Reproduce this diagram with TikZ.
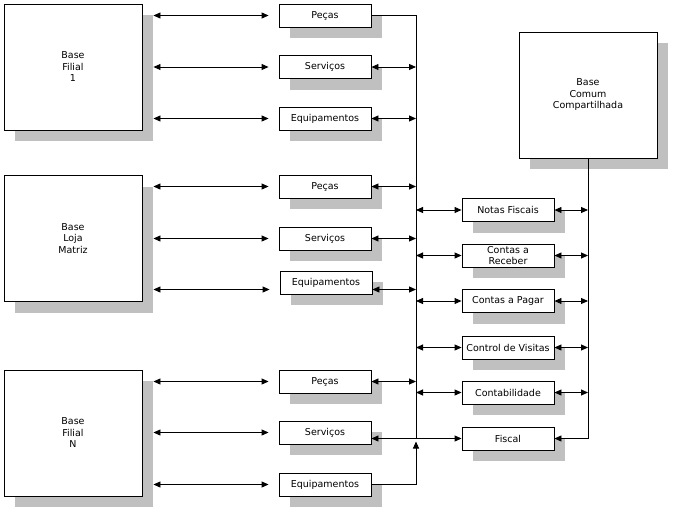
\documentclass[tikz,border=0pt]{standalone}
\usepackage{fontspec}
\setmainfont{DejaVu Sans}
\usetikzlibrary{arrows.meta, shadows}
\definecolor{shadowgray}{RGB}{192, 192, 192}

\begin{document}
\begin{tikzpicture}[
  x=1pt, y=-1pt,
  font=\fontsize{9.5}{11.5}\selectfont,
  basebox/.style={rectangle, draw, fill=white, line width=0.9pt, inner sep=0pt,
              minimum width=138pt, minimum height=126pt, align=center,
              drop shadow={shadow xshift=11pt, shadow yshift=-11pt,
                           fill=shadowgray, opacity=1}},
  tablebox/.style={basebox, minimum width=92pt, minimum height=23pt},
  dbl/.style={{Triangle[length=7pt, width=6pt]}-{Triangle[length=7pt, width=6pt]}, line width=0.9pt},
  wire/.style={line width=0.9pt},
  tip/.style={-{Triangle[length=7pt, width=6pt]}, line width=0.9pt}
]
\path[use as bounding box, fill=white] (0,0) rectangle (676,511);

\node[basebox] (filA)   at (73,67)    {Base\\Filial\\1};
\node[basebox] (matriz) at (73,238.5) {Base\\Loja\\Matriz};
\node[basebox] (filN)   at (73,433)   {Base\\Filial\\N};
\node[basebox] (comum)  at (588,95)   {Base\\Comum\\Compartilhada};

\node[tablebox] (pecasA) at (325,15.5)  {Peças};
\node[tablebox] (servA)  at (325,67)    {Serviços};
\node[tablebox] (equipA) at (325,118.5) {Equipamentos};
\node[tablebox] (pecasB) at (325,186.5) {Peças};
\node[tablebox] (servB)  at (325,238.5) {Serviços};
\node[tablebox] (equipB) at (326,282.5) {Equipamentos};
\node[tablebox] (pecasC) at (325,381.5) {Peças};
\node[tablebox] (servC)  at (325,432.5) {Serviços};
\node[tablebox] (equipC) at (325,484.5) {Equipamentos};

\node[tablebox] (notas)   at (508,210)   {Notas Fiscais};
\node[tablebox] (receber) at (508,255.5) {Contas a\\Receber};
\node[tablebox] (pagar)   at (508,301)   {Contas a Pagar};
\node[tablebox] (visitas) at (508,347.5) {Control de Visitas};
\node[tablebox] (contab)  at (508,392.5) {Contabilidade};
\node[tablebox] (fiscal)  at (508,438.5) {Fiscal};

\coordinate (busL) at (416,0);
\coordinate (eqBl) at ([yshift=-7pt]equipB.west);
\coordinate (eqBr) at ([yshift=-7pt]equipB.east);

\draw[dbl, shorten <=11pt, shorten >=10pt] (filA.east |- pecasA) -- (pecasA.west);
\draw[dbl, shorten <=11pt, shorten >=10pt] (filA.east |- servA)  -- (servA.west);
\draw[dbl, shorten <=11pt, shorten >=10pt] (filA.east |- equipA) -- (equipA.west);
\draw[dbl, shorten <=11pt, shorten >=10pt] (matriz.east |- pecasB) -- (pecasB.west);
\draw[dbl, shorten <=11pt, shorten >=10pt] (matriz.east |- servB)  -- (servB.west);
\draw[dbl, shorten <=11pt, shorten >=10pt] (matriz.east |- eqBl)   -- (eqBl);
\draw[dbl, shorten <=11pt, shorten >=10pt] (filN.east |- pecasC) -- (pecasC.west);
\draw[dbl, shorten <=11pt, shorten >=10pt] (filN.east |- servC)  -- (servC.west);
\draw[dbl, shorten <=11pt, shorten >=10pt] (filN.east |- equipC) -- (equipC.west);

\draw[wire] (pecasA.east) -- (pecasA.east -| busL) -- (fiscal.west -| busL);
\draw[tip, shorten >=3pt] (equipC.east) -- (equipC.east -| busL) -- (fiscal.west -| busL);
\draw[dbl] (servA.east)  -- (servA.east -| busL);
\draw[dbl] (equipA.east) -- (equipA.east -| busL);
\draw[dbl] (pecasB.east) -- (pecasB.east -| busL);
\draw[dbl] (servB.east)  -- (servB.east -| busL);
\draw[dbl] (eqBr)        -- (eqBr -| busL);
\draw[dbl] (pecasC.east) -- (pecasC.east -| busL);
\draw[dbl] (fiscal.west -| servC.east) -- (fiscal.west);

\draw[dbl] (notas.west -| busL)   -- (notas.west);
\draw[dbl] (receber.west -| busL) -- (receber.west);
\draw[dbl] (pagar.west -| busL)   -- (pagar.west);
\draw[dbl] (visitas.west -| busL) -- (visitas.west);
\draw[dbl] (contab.west -| busL)  -- (contab.west);

\draw[dbl] (notas.east)   -- (notas.east -| comum.south);
\draw[dbl] (receber.east) -- (receber.east -| comum.south);
\draw[dbl] (pagar.east)   -- (pagar.east -| comum.south);
\draw[dbl] (visitas.east) -- (visitas.east -| comum.south);
\draw[dbl] (contab.east)  -- (contab.east -| comum.south);
\draw[tip] (comum.south) -- (comum.south |- fiscal.east) -- (fiscal.east);
\end{tikzpicture}
\end{document}
